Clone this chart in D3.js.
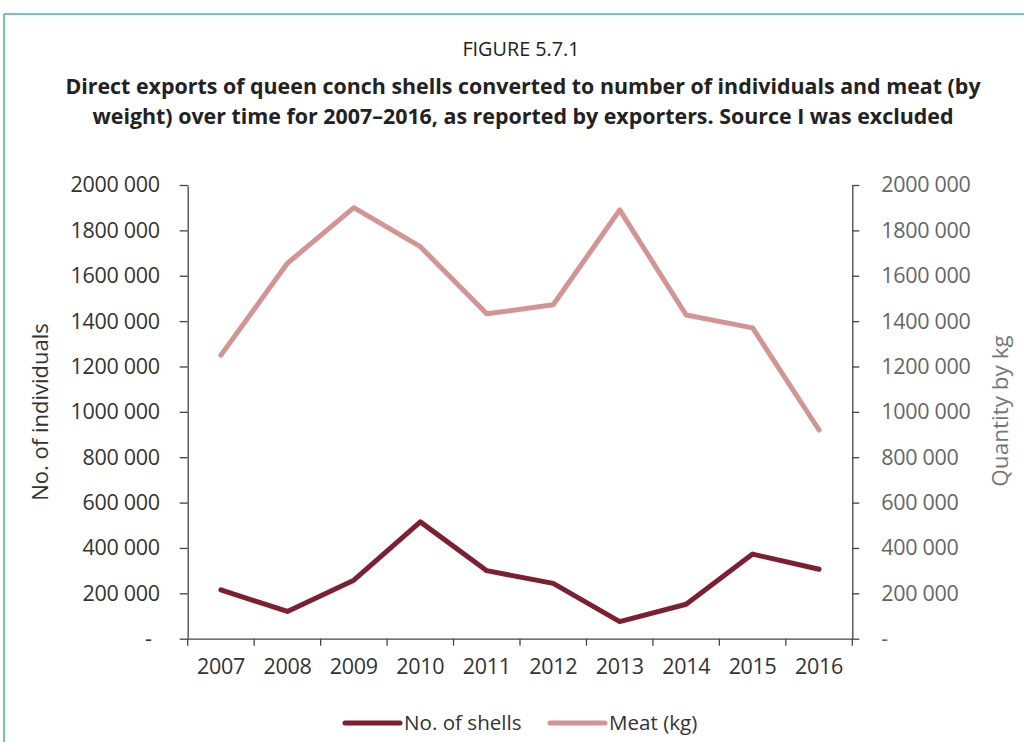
<!DOCTYPE html>
<html>
<head>
<meta charset="utf-8">
<script src="https://cdn.jsdelivr.net/npm/d3@7"></script>
<style>
  html, body { margin: 0; padding: 0; background: #fff; }
  svg { display: block; font-family: "Open Sans", "Noto Sans", sans-serif; }
</style>
</head>
<body>
<svg id="chart" width="1024" height="742"></svg>
<script>
// Export data, 2007–2016
const years = ["2007", "2008", "2009", "2010", "2011", "2012", "2013", "2014", "2015", "2016"];
const shells = [215000, 120000, 258000, 515000, 300000, 244000, 75000, 152000, 373000, 306000];
const meatKg = [1250000, 1655000, 1900000, 1728000, 1432000, 1472000, 1890000, 1427000, 1370000, 920000];
const yTicks = [0, 200000, 400000, 600000, 800000, 1000000, 1200000, 1400000, 1600000, 1800000, 2000000];

const titleTop = "FIGURE 5.7.1";
const titleLines = [
  "Direct exports of queen conch shells converted to number of individuals and meat (by",
  "weight) over time for 2007\u20132016, as reported by exporters. Source I was excluded"
];
const seriesNames = ["No. of shells", "Meat (kg)"];
const colShells = "#7d1f30";
const colMeat = "#d49494";

const svg = d3.select("#chart");

// Frame (top and left rules)
svg.append("line").attr("x1", 4).attr("x2", 1024).attr("y1", 14).attr("y2", 14)
  .attr("stroke", "#3fb0aa").attr("stroke-width", 1.5);
svg.append("line").attr("x1", 4).attr("x2", 4).attr("y1", 14).attr("y2", 742)
  .attr("stroke", "#3fb0aa").attr("stroke-width", 1.5);

// Titles
svg.append("text").attr("x", 521).attr("y", 56).attr("text-anchor", "middle")
  .attr("font-size", 19.8).attr("fill", "#222").text(titleTop);
titleLines.forEach((t, i) => {
  svg.append("text").attr("x", 523).attr("y", 94 + i * 30).attr("text-anchor", "middle")
    .attr("font-size", 21.4).attr("font-weight", "bold").attr("fill", "#222").text(t);
});

const plotLeft = 187.7, plotRight = 852.3, plotTop = 185, plotBottom = 638.7;

const x = d3.scaleBand().domain(years).range([plotLeft, plotRight]);
const yL = d3.scaleLinear().domain([0, 2000000]).range([plotBottom, plotTop]);
const yR = d3.scaleLinear().domain([0, 2000000]).range([plotBottom, plotTop]);

const fmt = n => n === 0 ? "-" : `${Math.floor(n / 1000)} ${String(n % 1000).padStart(3, "0")}`;

// Left axis
const gL = svg.append("g").attr("transform", `translate(${plotLeft},0)`)
  .call(d3.axisLeft(yL).tickValues(yTicks).tickFormat(fmt).tickSize(8).tickPadding(20).tickSizeOuter(0));
gL.select(".domain").attr("stroke", "#444").attr("stroke-width", 1.3);
gL.selectAll(".tick line").attr("stroke", "#444").attr("stroke-width", 1.3);
gL.selectAll(".tick text").attr("font-size", 21.5).attr("fill", "#333")
  .attr("letter-spacing", "-0.3px").attr("font-family", "'Open Sans', sans-serif");
gL.selectAll(".tick").filter(d => d === 0).select("text").attr("dx", -8);

// Right axis
const gR = svg.append("g").attr("transform", `translate(${plotRight},0)`)
  .call(d3.axisRight(yR).tickValues(yTicks).tickFormat(fmt).tickSize(7).tickPadding(22).tickSizeOuter(0));
gR.select(".domain").attr("stroke", "#444").attr("stroke-width", 1.3);
gR.selectAll(".tick line").attr("stroke", "#444").attr("stroke-width", 1.3);
gR.selectAll(".tick text").attr("font-size", 21.5).attr("fill", "#666")
  .attr("letter-spacing", "-0.3px").attr("font-family", "'Open Sans', sans-serif");

// Bottom axis: ticks sit on the category boundaries
const gX = svg.append("g").attr("transform", `translate(0,${plotBottom})`)
  .call(d3.axisBottom(x).tickSize(0).tickPadding(20));
gX.select(".domain").attr("stroke", "#444").attr("stroke-width", 1.3);
gX.selectAll(".tick text").attr("font-size", 21.5).attr("fill", "#333")
  .attr("letter-spacing", "-0.3px").attr("font-family", "'Open Sans', sans-serif");
const bounds = years.map(d => x(d)).concat([x(years[years.length - 1]) + x.bandwidth()]);
gX.selectAll(".bound").data(bounds).join("line").attr("class", "bound")
  .attr("x1", d => d).attr("x2", d => d).attr("y1", 0).attr("y2", 7)
  .attr("stroke", "#444").attr("stroke-width", 1.3);

// Axis titles
svg.append("text").attr("transform", "translate(48,412) rotate(-90)")
  .attr("text-anchor", "middle").attr("font-size", 22).attr("fill", "#333").text("No. of individuals");
svg.append("text").attr("transform", "translate(1008,411) rotate(-90)")
  .attr("text-anchor", "middle").attr("font-size", 22.5).attr("fill", "#777").text("Quantity by kg");

// Series lines
const cx = d => x(d) + x.bandwidth() / 2;
const lineL = d3.line().x((d, i) => cx(years[i])).y(d => yL(d));
const lineR = d3.line().x((d, i) => cx(years[i])).y(d => yR(d));

svg.append("path").datum(meatKg).attr("d", lineR).attr("fill", "none")
  .attr("stroke", colMeat).attr("stroke-width", 5).attr("stroke-linejoin", "round").attr("stroke-linecap", "round");
svg.append("path").datum(shells).attr("d", lineL).attr("fill", "none")
  .attr("stroke", colShells).attr("stroke-width", 5).attr("stroke-linejoin", "round").attr("stroke-linecap", "round");

// Legend
const legend = [
  { name: seriesNames[0], color: colShells, x0: 345 },
  { name: seriesNames[1], color: colMeat, x0: 550 }
];
legend.forEach(l => {
  svg.append("line").attr("x1", l.x0).attr("x2", l.x0 + 55).attr("y1", 723).attr("y2", 723)
    .attr("stroke", l.color).attr("stroke-width", 5).attr("stroke-linecap", "round");
  svg.append("text").attr("x", l.x0 + 59).attr("y", 730).attr("font-size", 20.6)
    .attr("fill", "#333").text(l.name);
});
</script>
</body>
</html>
